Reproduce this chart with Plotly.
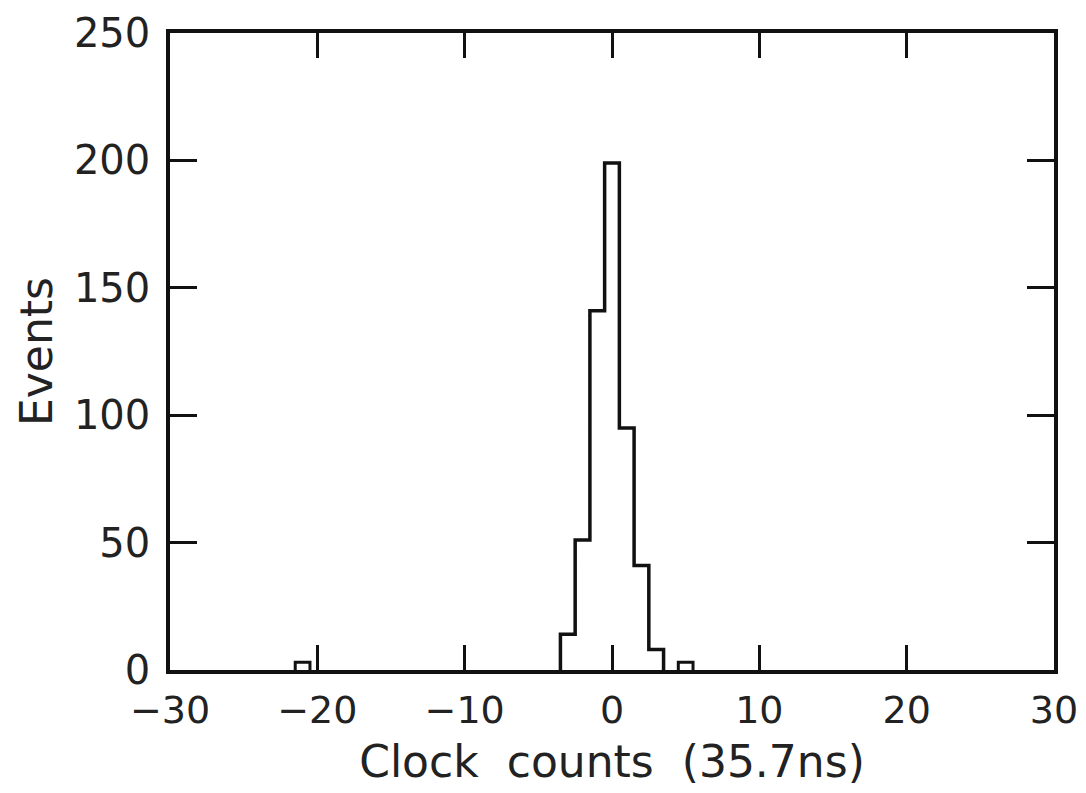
import plotly.graph_objects as go

# Histogram data (bin centers in clock counts, events per bin)
peak_centers = [-3, -2, -1, 0, 1, 2, 3]
peak_counts = [14, 51, 141, 199, 95, 41, 8]
side_centers = [-21, 5]
side_counts = [3, 3]
bin_width = 1.0

x_ticks = [-30, -20, -10, 0, 10, 20, 30]
x_ticktext = ["\u221230", "\u221220", "\u221210", "0", "10", "20", "30"]
y_ticks = [0, 50, 100, 150, 200, 250]

fig = go.Figure()

# main peak as a step outline
edges = [c - bin_width / 2 for c in peak_centers] + [peak_centers[-1] + bin_width / 2]
ys = peak_counts + [peak_counts[-1]]
sx = [edges[0]] + edges + [edges[-1]]
sy = [0] + ys + [0]
fig.add_trace(go.Scatter(x=sx, y=sy, mode="lines", line=dict(color="#111", width=3.5, shape="hv"),
                         showlegend=False, hoverinfo="skip"))

# isolated small bins as boxes
for c, n in zip(side_centers, side_counts):
    l, r = c - bin_width / 2, c + bin_width / 2
    fig.add_trace(go.Scatter(x=[l, l, r, r], y=[0, n, n, 0], mode="lines",
                             line=dict(color="#111", width=3), showlegend=False, hoverinfo="skip"))

font_family = "DejaVu Sans"
fig.update_layout(
    width=1086, height=793,
    margin=dict(l=162, r=40, t=25, b=131),
    paper_bgcolor="white", plot_bgcolor="white",
    font=dict(family=font_family, color="#222", size=40),
)
fig.update_xaxes(
    range=[-30, 30], tickvals=x_ticks, ticktext=x_ticktext,
    ticks="inside", ticklen=25, tickwidth=2.5, tickcolor="#111",
    showline=True, linecolor="#111", linewidth=3.5, mirror="ticks",
    showgrid=False, zeroline=False, automargin=False,
    tickfont=dict(size=38), ticklabelstandoff=4,
    title=dict(text="Clock  counts  (35.7ns)", font=dict(size=44), standoff=16),
)
fig.update_yaxes(
    range=[0, 250], tickvals=y_ticks,
    ticks="inside", ticklen=27, tickwidth=2.5, tickcolor="#111",
    showline=True, linecolor="#111", linewidth=3.5, mirror="ticks",
    showgrid=False, zeroline=False, automargin=False,
    tickfont=dict(size=40), ticklabelstandoff=8,
    title=dict(text="Events", font=dict(size=44), standoff=8),
)

fig.write_html("out.html")
